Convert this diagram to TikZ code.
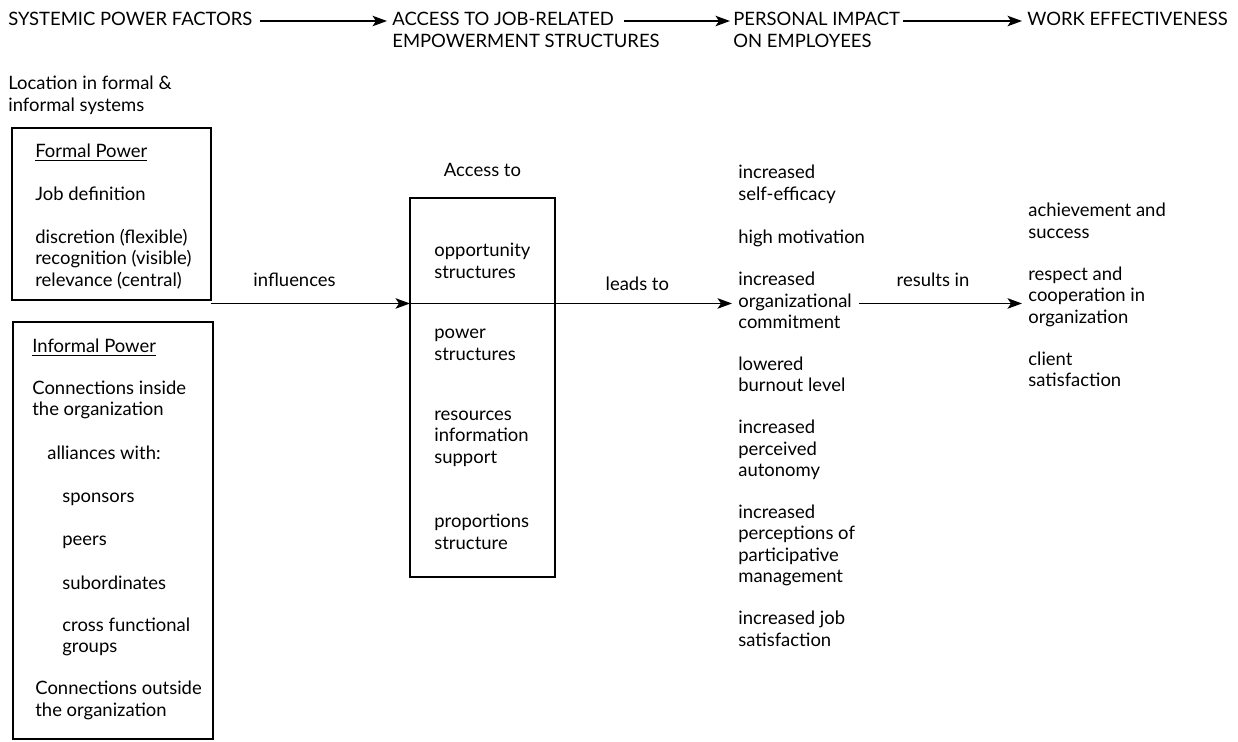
\documentclass[tikz,border=0pt]{standalone}
\usepackage{fontspec}
\setmainfont{Lato}
\usetikzlibrary{arrows, arrows.meta, positioning, calc}

\begin{document}
\begin{tikzpicture}[x=0.02cm, y=-0.02cm, >={Stealth[length=2.9mm, width=2.1mm, inset=0.7mm]},
  txt/.style={align=left, anchor=north west, inner sep=0pt, font=\fontsize{10.5}{12.15}\selectfont,
    execute at begin node=\strut, execute at end node=\strut},
  box/.style={rectangle, draw=black, thick, anchor=north west, inner sep=0pt, outer sep=0pt},
  flow/.style={->, thick},
  node distance=12.15pt]

      \useasboundingbox (0,0) rectangle (1238,742);
      \fill[white] (0,0) rectangle (1238,742);

      % Kopfzeile
      \node[txt] (sys) at (8,10) {SYSTEMIC POWER FACTORS};
      \node[txt] (acc) at (392,10) {ACCESS TO JOB-RELATED};
      \node[txt, below=0pt of acc.south west, anchor=north west] (acc2) {EMPOWERMENT STRUCTURES};
      \node[txt] (pers) at (733,10) {PERSONAL IMPACT};
      \node[txt, below=0pt of pers.south west, anchor=north west] (pers2) {ON EMPLOYEES};
      \node[txt] (work) at (1027,10) {WORK EFFECTIVENESS};

      % Pfeile Kopfzeile
      \draw[flow, shorten <=0.14cm, shorten >=0.1cm] (sys.east) -- (sys.east -| acc.west);
      \draw[flow, shorten <=0.2cm, shorten >=0.06cm] (acc.east) -- (acc.east -| pers.west);
      \draw[flow, shorten <=0.06cm, shorten >=0.1cm] (pers.east) -- (pers.east -| work.west);

      % Linke Spalte
      \node[txt] (loc) at (8,76) {Location in formal \&\\informal systems};

      % Formale Macht
      \node[box, minimum width=3.98cm, minimum height=3.44cm] (formal) at (12,128) {};
      \node[txt, below right=0.28cm and 0.46cm of formal.north west] (fptitle) {\underline{Formal Power}};
      \node[txt, below=of fptitle.south west, anchor=north west] (jobdef) {Job definition};
      \node[txt, below=of jobdef.south west, anchor=north west] (discr) {discretion (flexible)\\recognition (visible)\\relevance (central)};

      % Informelle Macht
      \node[box, minimum width=4cm, minimum height=8.34cm] (informal) at (13,322) {};
      \node[txt, below right=0.3cm and 0.38cm of informal.north west] (iptitle) {\underline{Informal Power}};
      \node[txt, below=of iptitle.south west, anchor=north west] (conin) {Connections inside\\the organization};
      \node[txt, below right=12.15pt and 0.3cm of conin.south west] (allies) {alliances with:};
      \node[txt, below right=12.15pt and 0.3cm of allies.south west] (sponsors) {sponsors};
      \node[txt, below=of sponsors.south west, anchor=north west] (peers) {peers};
      \node[txt, below=of peers.south west, anchor=north west] (subord) {subordinates};
      \node[txt, below=of subord.south west, anchor=north west] (cross) {cross functional\\groups};
      \node[txt, below right=12.15pt and -0.54cm of cross.south west] (conout) {Connections outside\\the organization};

      % Mittlere Box
      \node[box, minimum width=2.9cm, minimum height=7.58cm] (midbox) at (410,198) {};
      \node[txt, above=0.3cm of midbox] (accto) {Access to};
      \node[txt, below right=0.9cm and 0.48cm of midbox.north west] (opport) {opportunity\\structures};
      \node[txt, below=25pt of opport.south west, anchor=north west] (powerst) {power\\structures};
      \node[txt, below=25pt of powerst.south west, anchor=north west] (resinf) {resources\\information\\support};
      \node[txt, below=25pt of resinf.south west, anchor=north west] (propor) {proportions\\structure};

      % Wirkung auf Mitarbeiter
      \node[txt] (effic) at (738,165) {increased\\self-efficacy};
      \node[txt, below=of effic.south west, anchor=north west] (motiv) {high motivation};
      \node[txt, below=of motiv.south west, anchor=north west] (commit) {increased\\organizational\\commitment};
      \node[txt, below=of commit.south west, anchor=north west] (burnout) {lowered\\burnout level};
      \node[txt, below=of burnout.south west, anchor=north west] (autonomy) {increased\\perceived\\autonomy};
      \node[txt, below=of autonomy.south west, anchor=north west] (particip) {increased\\perceptions of\\participative\\management};
      \node[txt, below=of particip.south west, anchor=north west] (jobsat) {increased job\\satisfaction};

      % Arbeitseffektivitaet
      \node[txt] (achieve) at (1028,203) {achievement and\\success};
      \node[txt, below=of achieve.south west, anchor=north west] (respect) {respect and\\cooperation in\\organization};
      \node[txt, below=of respect.south west, anchor=north west] (client) {client\\satisfaction};

      % Pfeil influences
      \draw[flow] (formal.east |- commit) -- node[txt, above=0.2cm, pos=0.42] (infl) {influences} (commit -| midbox.west);

      % Linie durch die Box
      \draw[thick] (commit -| midbox.west) -- (commit -| midbox.east);

      % Pfeil leads to
      \draw[flow, shorten >=0.12cm] (commit -| midbox.east) -- node[txt, above=0.12cm, pos=0.45] (leads) {leads to} (commit.west);

      % Pfeil results in
      \draw[flow, shorten <=0.14cm, shorten >=0.12cm] (commit.east) -- node[txt, above=0.2cm, pos=0.46] (results) {results in} (commit.east -| respect.west);

\end{tikzpicture}
\end{document}
